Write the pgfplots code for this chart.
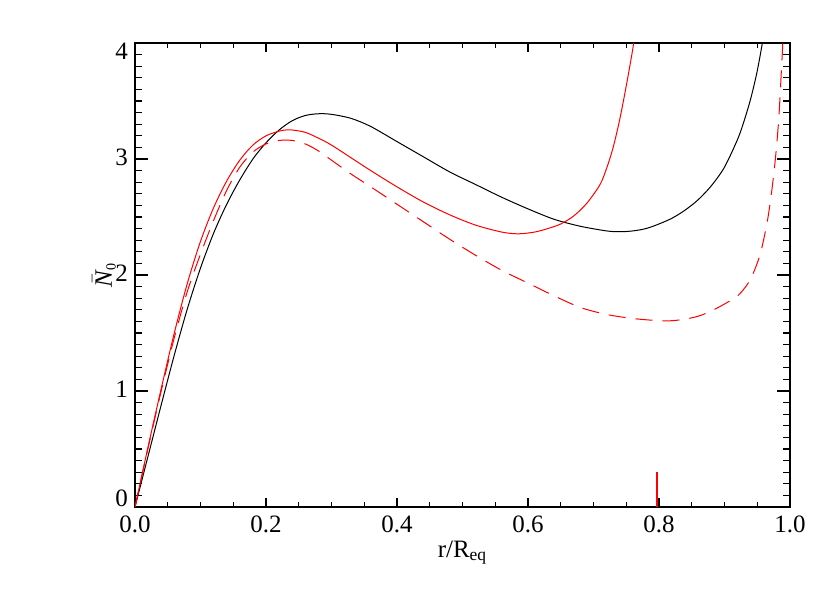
\documentclass[border=0pt]{standalone}
\usepackage{pgfplots}
\pgfplotsset{compat=1.18}
\usepackage{fontspec}
\setmainfont{Liberation Serif}

\begin{document}
\begin{tikzpicture}
\useasboundingbox (-67.5pt,-43pt) rectangle (347.5pt,253.5pt);
\begin{axis}[
  at={(0,0)}, anchor=south west,
  scale only axis,
  width=327.5pt, height=232pt,
  xmin=0, xmax=1, ymin=0, ymax=4,
  xtick={0,0.2,...,1.0},
  xticklabels={0.0,0.2,0.4,0.6,0.8,1.0},
  ytick={0,1,2,3,4},
  minor x tick num=3,
  minor y tick num=9,
  tick align=inside,
  xtick style={/pgfplots/major tick length=4.6pt,/pgfplots/minor tick length=2.4pt},
  ytick style={/pgfplots/major tick length=6.5pt,/pgfplots/minor tick length=3.3pt},
  axis line style={line width=0.7pt},
  every tick/.style={black,line width=0.6pt},
  tick label style={font=\fontsize{12.5}{14}\selectfont},
  /pgf/number format/assume math mode=true,
  xticklabel style={yshift=-1pt},
  yticklabel style={yshift={(\ticknum==0)*3.5 - (\ticknum==4)*5 + 1}},
  xlabel={r/R\textsubscript{eq}},
  ylabel={$\bar{\mbox{\itshape N}}_{\mbox{\scriptsize 0}}$},
  label style={font=\fontsize{12.5}{14}\selectfont},
  xlabel style={yshift=3pt},
  ylabel style={yshift=-7pt},
]
% black solid
\addplot[black, line width=0.5pt, smooth] coordinates {
(0,0) (0.02,0.44) (0.04,0.88) (0.06,1.31) (0.08,1.71) (0.10,2.06)
(0.12,2.36) (0.14,2.61) (0.16,2.82) (0.18,3.00) (0.20,3.14) (0.22,3.25)
(0.24,3.33) (0.26,3.375) (0.28,3.39) (0.30,3.385) (0.33,3.35) (0.36,3.28)
(0.40,3.15) (0.44,3.02) (0.48,2.89) (0.52,2.78) (0.56,2.67) (0.60,2.57)
(0.64,2.48) (0.68,2.42) (0.72,2.38) (0.74,2.373) (0.76,2.38) (0.78,2.40)
(0.80,2.44) (0.82,2.49) (0.84,2.56) (0.86,2.65) (0.88,2.77) (0.90,2.93)
(0.92,3.17) (0.93,3.33) (0.94,3.52) (0.95,3.76) (0.96,4.07) (0.965,4.25)
};
% red solid
\addplot[red, line width=0.5pt, smooth] coordinates {
(0,0) (0.02,0.52) (0.04,1.02) (0.06,1.50) (0.08,1.93) (0.10,2.29)
(0.12,2.58) (0.14,2.81) (0.16,2.99) (0.18,3.12) (0.20,3.20) (0.22,3.24)
(0.23,3.25) (0.24,3.25) (0.26,3.23) (0.28,3.18) (0.30,3.12) (0.33,3.01)
(0.36,2.90) (0.40,2.76) (0.44,2.63) (0.48,2.52) (0.52,2.43) (0.56,2.37)
(0.585,2.355) (0.61,2.37) (0.63,2.40) (0.65,2.44) (0.67,2.51) (0.69,2.62)
(0.71,2.78) (0.72,2.92) (0.73,3.10) (0.74,3.34) (0.75,3.63) (0.76,3.95)
(0.765,4.15)
};
% red dashed
\addplot[red, line width=0.5pt, dash pattern=on 8.5pt off 5pt, smooth] coordinates {
(0,0) (0.02,0.51) (0.04,1.0) (0.06,1.46) (0.08,1.86) (0.10,2.18)
(0.12,2.47) (0.14,2.73) (0.16,2.93) (0.18,3.06) (0.20,3.13) (0.22,3.16)
(0.24,3.16) (0.26,3.13) (0.28,3.07) (0.30,2.99) (0.33,2.87) (0.36,2.76)
(0.40,2.61) (0.44,2.46) (0.48,2.31) (0.52,2.17) (0.56,2.04) (0.60,1.93)
(0.64,1.82) (0.68,1.72) (0.72,1.66) (0.76,1.625) (0.80,1.606) (0.82,1.606)
(0.84,1.62) (0.86,1.645) (0.88,1.69) (0.90,1.75) (0.92,1.82) (0.935,1.92)
(0.945,2.03) (0.955,2.19) (0.965,2.45) (0.972,2.72) (0.978,3.02)
(0.983,3.36) (0.987,3.78) (0.989,4.0) (0.992,4.4)
};
% red marker
\addplot[red, line width=1pt] coordinates {(0.797,0) (0.797,0.3)};
\end{axis}
\end{tikzpicture}
\end{document}
